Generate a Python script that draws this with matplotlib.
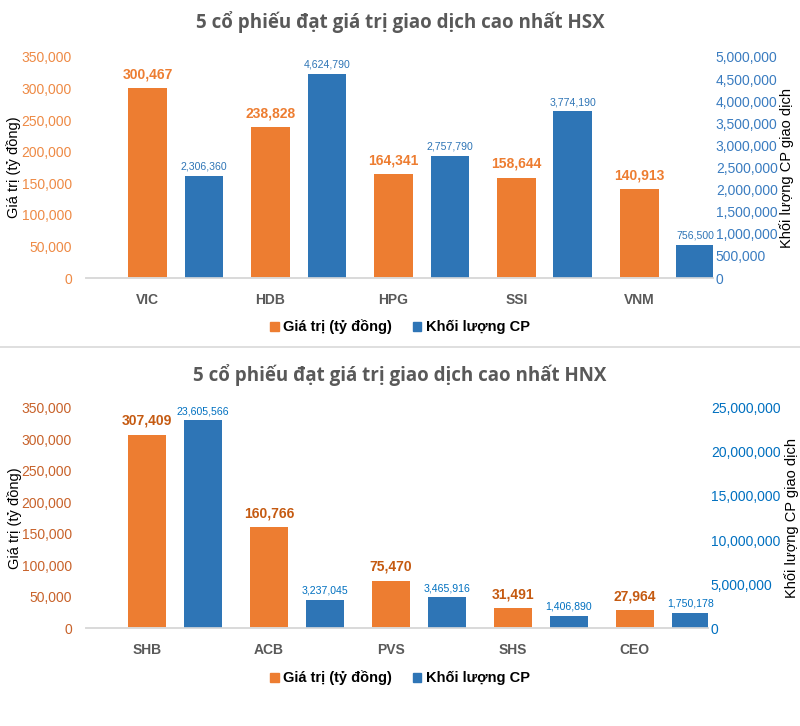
import numpy as np
import matplotlib
matplotlib.use("Agg")
import matplotlib.pyplot as plt
from matplotlib import font_manager
from matplotlib.lines import Line2D
from matplotlib.patches import Patch
from matplotlib.ticker import FuncFormatter, MultipleLocator

# data
hsxStocks = ["VIC", "HDB", "HPG", "SSI", "VNM"]
hsxValue = [300467, 238828, 164341, 158644, 140913]
hsxVolume = [2306360, 4624790, 2757790, 3774190, 756500]

hnxStocks = ["SHB", "ACB", "PVS", "SHS", "CEO"]
hnxValue = [307409, 160766, 75470, 31491, 27964]
hnxVolume = [23605566, 3237045, 3465916, 1406890, 1750178]

ORANGE = "#ED7D31"
BLUE = "#2E75B6"

installed = {f.name for f in font_manager.fontManager.ttflist}
NARROW = "Liberation Sans Narrow" if "Liberation Sans Narrow" in installed else "Liberation Sans"
plt.rcParams["font.family"] = ["Liberation Sans", "DejaVu Sans"]

W, H = 800, 726


def fmt(v, pos=None):
    return f"{int(v):,}"


def drawChart(fig, top, base, right, title, titleY, legendY, stocks, values, volumes,
              volMax, volStep, leftCol, rightCol, orangeLbl, blueLbl, rightLabelX):
    rect = [86 / W, 1 - base / H, (right - 86) / W, (base - top) / H]
    ax = fig.add_axes(rect)
    ax2 = ax.twinx()
    x = np.arange(len(stocks))
    ax.bar(x, values, width=0.315, color=ORANGE, zorder=2)
    ax2.bar(x + 0.46, volumes, width=0.315, color=BLUE, zorder=2)

    ax.set_xlim(-0.5, 4.6)
    ax.set_ylim(0, 350000)
    ax2.set_ylim(0, volMax)
    ax.yaxis.set_major_locator(MultipleLocator(50000))
    ax2.yaxis.set_major_locator(MultipleLocator(volStep))
    ax.yaxis.set_major_formatter(FuncFormatter(fmt))
    ax2.yaxis.set_major_formatter(FuncFormatter(fmt))

    for a in (ax, ax2):
        for s in ("top", "left", "right"):
            a.spines[s].set_visible(False)
        a.spines["bottom"].set_color("#D9D9D9")
        a.spines["bottom"].set_linewidth(1.2)

    ax.set_xticks(x)
    ax.set_xticklabels(stocks, fontsize=10, fontweight="bold", color="#595959")
    ax.tick_params(axis="x", length=0, pad=11)
    ax.tick_params(axis="y", length=0, pad=10, labelsize=10, labelcolor=leftCol)
    ax2.tick_params(axis="y", length=0, pad=2, labelsize=10, labelcolor=rightCol)

    ax.set_ylabel("Giá trị (tỷ đồng)", fontsize=10.5, color="black")
    ax.yaxis.set_label_coords(-0.103, 0.5)
    ax2.set_ylabel("Khối lượng CP giao dịch", fontsize=10.5, color="black")
    ax2.yaxis.set_label_coords((rightLabelX - 86) / (right - 86), 0.5)

    for xi, v in zip(x, values):
        ax.annotate(fmt(v), (xi, v), xytext=(0, 5), textcoords="offset points",
                    ha="center", va="bottom", fontsize=10, fontweight="bold",
                    color=orangeLbl, family=NARROW)
    for xi, v in zip(x, volumes):
        ax2.annotate(fmt(v), (xi + 0.46, v), xytext=(0, 3), textcoords="offset points",
                     ha="center", va="bottom", fontsize=7.6, color=blueLbl, family=NARROW)

    fig.text(0.5, 1 - titleY / H, title, ha="center", va="center", fontsize=13.5,
             fontweight="bold", color="#595959", family=["Open Sans", "DejaVu Sans"])

    handles = [Patch(color=ORANGE, label="Giá trị (tỷ đồng)"),
               Patch(color=BLUE, label="Khối lượng CP")]
    fig.legend(handles=handles, loc="center", bbox_to_anchor=(0.5, 1 - legendY / H),
               ncol=2, frameon=False, handlelength=0.6, handleheight=0.6,
               handletextpad=0.3, columnspacing=1.4,
               prop={"weight": "bold", "size": 10.5})


fig = plt.figure(figsize=(W / 100, H / 100), dpi=100)

drawChart(fig, 57, 278, 713, "5 cổ phiếu đạt giá trị giao dịch cao nhất HSX", 22, 327,
          hsxStocks, hsxValue, hsxVolume, 5000000, 500000,
          "#EE8A45", "#3A7CC0", ORANGE, BLUE, 779)

fig.add_artist(Line2D([0, 1], [1 - 347 / H] * 2, color="#D9D9D9", lw=1.2))

drawChart(fig, 408, 628, 708, "5 cổ phiếu đạt giá trị giao dịch cao nhất HNX", 375, 678,
          hnxStocks, hnxValue, hnxVolume, 25000000, 5000000,
          "#C8622A", "#0070C0", "#C55A11", "#0070C0", 784)

fig.savefig("out.png", dpi=100)
